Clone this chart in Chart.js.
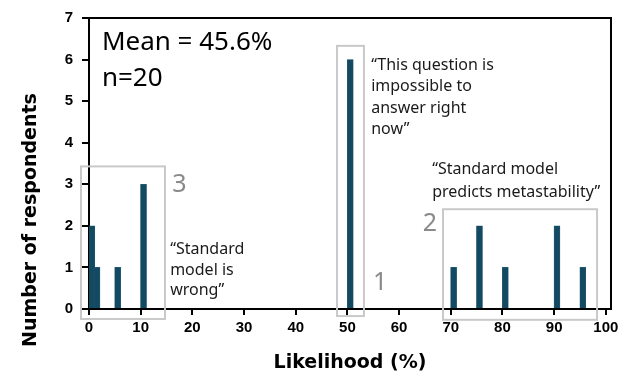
<!DOCTYPE html>
<html>
<head>
<meta charset="utf-8">
<script src="https://cdn.jsdelivr.net/npm/chart.js@4.4.1/dist/chart.umd.min.js"></script>
<style>
  html, body { margin: 0; padding: 0; background: #fff; }
  #wrap { width: 634px; height: 387px; }
</style>
</head>
<body>
<div id="wrap"><canvas id="myChart"></canvas></div>
<script>
// likelihood answers (%) and how many people gave each
const likelihoods = [0, 1, 5, 10, 50, 70, 75, 80, 90, 95];
const respondents = [2, 1, 1, 3, 6, 1, 2, 1, 2, 1];
const xTicks = [0, 10, 20, 30, 40, 50, 60, 70, 80, 90, 100];
const yTicks = [0, 1, 2, 3, 4, 5, 6, 7];

const statsLines = ['Mean = 45.6%', 'n=20'];

// groups marked on the chart, in data units
const groups = [
    { label: '3', x0: -1.55, x1: 14.7, y0: -0.24, y1: 3.43, lx: 16.1, ly: 2.98,
      quote: ['\u201cStandard', 'model is', 'wrong\u201d'], qx: 15.7, qy: 1.43, lh: 20.5 },
    { label: '1', x0: 47.99, x1: 53.2, y0: -0.17, y1: 6.33, lx: 54.95, ly: 0.64,
      quote: ['\u201cThis question is', 'impossible to', 'answer right', 'now\u201d'], qx: 54.6, qy: 5.86, lh: 21.5 },
    { label: '2', x0: 68.5, x1: 98.3, y0: -0.26, y1: 2.40, lx: 64.6, ly: 2.05,
      quote: ['\u201cStandard model', 'predicts metastability\u201d'], qx: 66.4, qy: 3.36, lh: 23 },
];

const BAR_SHIFT = 0.55; // bars sit just right of their value, like the original
const BOLD = '"DejaVu Sans", "Liberation Sans", Arial, sans-serif';
const TICKS = '"Liberation Sans", Arial, sans-serif';

const ctx = document.getElementById('myChart').getContext('2d');

const annotations = {
    id: 'annotations',
    afterDraw(chart) {
        const { ctx, chartArea: a, scales: { x, y } } = chart;
        ctx.save();

        // frame top + right
        ctx.strokeStyle = '#000';
        ctx.lineWidth = 2;
        ctx.beginPath();
        ctx.moveTo(a.left, a.top);
        ctx.lineTo(a.right, a.top);
        ctx.lineTo(a.right, a.bottom);
        ctx.stroke();

        // group boxes, numbers, quotes
        groups.forEach(g => {
            const l = x.getPixelForValue(g.x0), r = x.getPixelForValue(g.x1);
            const t = y.getPixelForValue(g.y1), b = y.getPixelForValue(g.y0);
            ctx.strokeStyle = '#c9c9c9';
            ctx.lineWidth = 2;
            ctx.strokeRect(l, t, r - l, b - t);

            ctx.fillStyle = '#8a8a8a';
            ctx.font = '25px "Noto Sans", sans-serif';
            ctx.textAlign = 'left';
            ctx.textBaseline = 'middle';
            ctx.fillText(g.label, x.getPixelForValue(g.lx), y.getPixelForValue(g.ly));

            ctx.fillStyle = '#1a1a1a';
            ctx.font = '16px "Noto Sans", sans-serif';
            const qx = x.getPixelForValue(g.qx), qy = y.getPixelForValue(g.qy);
            g.quote.forEach((line, i) => ctx.fillText(line, qx, qy + i * g.lh));
        });

        // mean / n
        ctx.fillStyle = '#000';
        ctx.font = '26px "Noto Sans", sans-serif';
        ctx.textAlign = 'left';
        ctx.textBaseline = 'middle';
        const sx = x.getPixelForValue(2.5);
        ctx.fillText(statsLines[0], sx, y.getPixelForValue(6.4));
        ctx.fillText(statsLines[1], sx, y.getPixelForValue(5.55));

        // axis titles
        ctx.font = 'bold 19px ' + BOLD;
        ctx.textAlign = 'center';
        ctx.fillText('Likelihood (%)', 350, 363);
        ctx.translate(31, 220);
        ctx.rotate(-Math.PI / 2);
        ctx.fillText('Number of respondents', 0, 0);

        ctx.restore();
    }
};

new Chart(ctx, {
    type: 'bar',
    data: {
        datasets: [{
            data: likelihoods.map((v, i) => ({ x: v + BAR_SHIFT, y: respondents[i] })),
            backgroundColor: '#134a62',
            borderColor: '#2f6580',
            borderWidth: 0.5,
            barThickness: 6,
        }]
    },
    options: {
        responsive: true,
        maintainAspectRatio: false,
        animation: false,
        layout: { padding: { top: 13, right: 23, left: 0, bottom: 0 } },
        plugins: { legend: { display: false }, tooltip: { enabled: false } },
        scales: {
            x: {
                type: 'linear',
                min: 0,
                max: 101,
                offset: false,
                afterBuildTicks(scale) { scale.ticks = xTicks.map(v => ({ value: v })); },
                afterFit(scale) { scale.height = 78; },
                grid: { drawOnChartArea: false, offset: false, color: '#000', lineWidth: 2, tickLength: 6 },
                border: { color: '#000', width: 2 },
                ticks: {
                    color: '#000',
                    padding: 4,
                    maxRotation: 0,
                    font: { family: TICKS, size: 15, weight: 'bold' }
                }
            },
            y: {
                min: 0,
                max: 7,
                afterBuildTicks(scale) { scale.ticks = yTicks.map(v => ({ value: v })); },
                afterFit(scale) { scale.width = 89; },
                grid: { drawOnChartArea: false, color: '#000', lineWidth: 2, tickLength: 7 },
                border: { color: '#000', width: 2 },
                ticks: {
                    color: '#000',
                    padding: 9,
                    font: { family: TICKS, size: 15, weight: 'bold' }
                }
            }
        }
    },
    plugins: [annotations]
});
</script>
</body>
</html>
